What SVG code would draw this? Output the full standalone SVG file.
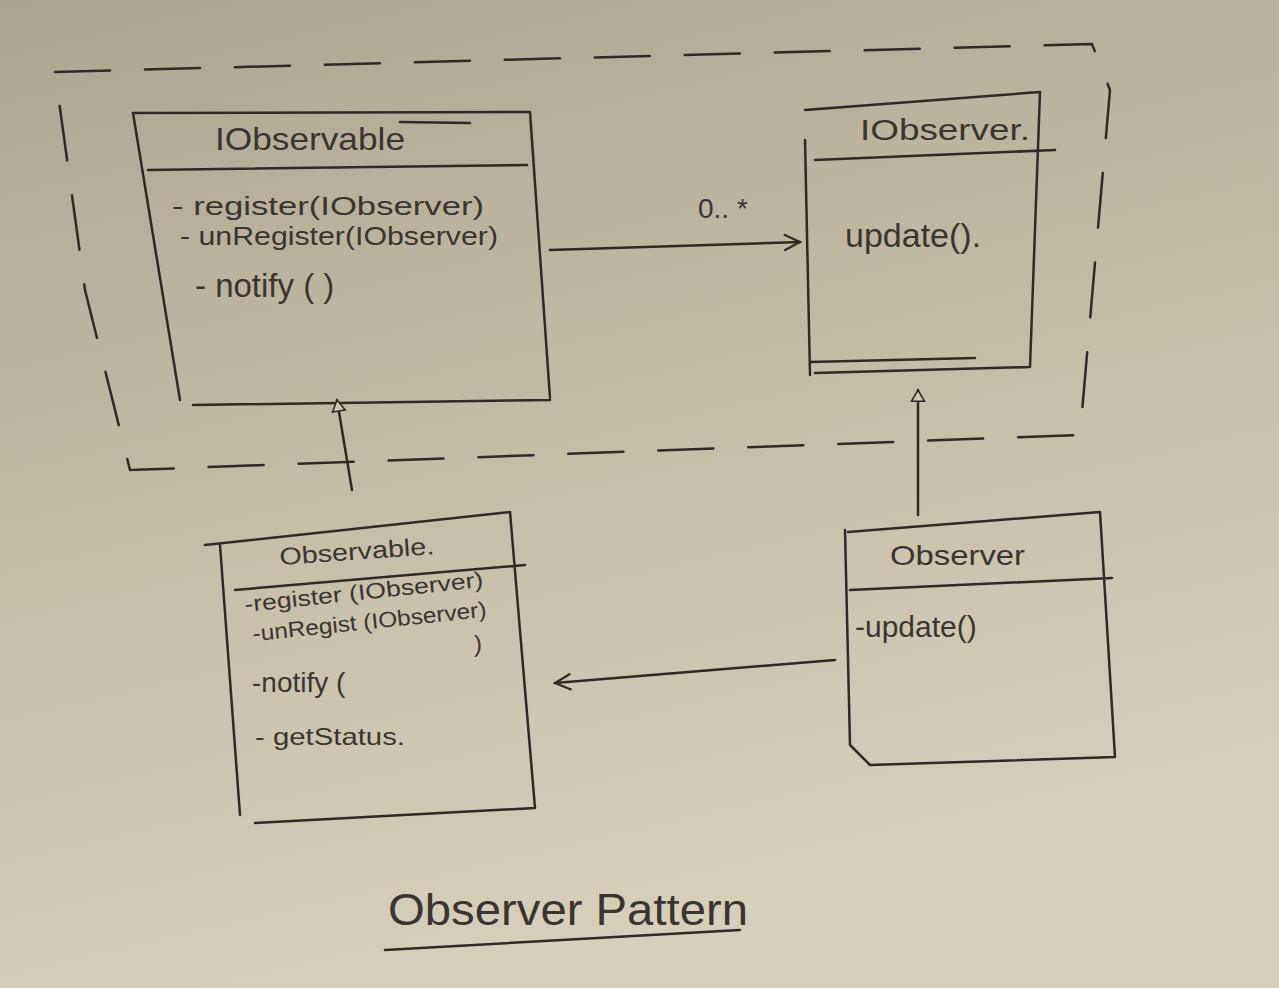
<svg xmlns="http://www.w3.org/2000/svg" width="1279" height="988" viewBox="0 0 1279 988">
<defs>
<linearGradient id="bg" x1="0" y1="0" x2="0.3" y2="1">
<stop offset="0" stop-color="#aca590"/>
<stop offset="0.5" stop-color="#c3bca5"/>
<stop offset="1" stop-color="#d6d0bb"/>
</linearGradient>
<marker id="open" viewBox="0 0 20 20" refX="18" refY="10" markerWidth="20" markerHeight="20" markerUnits="userSpaceOnUse" orient="auto">
<path d="M2,2 L18,10 L2,18" fill="none" stroke="#2e2a25" stroke-width="2.2"/>
</marker>
<marker id="tri" viewBox="0 0 20 20" refX="18" refY="10" markerWidth="16" markerHeight="16" markerUnits="userSpaceOnUse" orient="auto">
<path d="M4,2 L18,10 L4,18 Z" fill="#d0c9b3" stroke="#2e2a25" stroke-width="2"/>
</marker>
<style>
.ln{fill:none;stroke:#2e2a25;stroke-width:2.5;stroke-linecap:round;stroke-linejoin:round}
.t{font-family:"Liberation Sans",Arial,sans-serif;fill:#3a352f}
.dash{fill:none;stroke:#2e2a25;stroke-width:2.5;stroke-dasharray:55 35;stroke-linecap:round}
</style>
</defs>
<rect width="1279" height="988" fill="url(#bg)"/>

<g id="boundary">
<path class="dash" d="M55,72 L1092,44 L1110,90 L1080,435 L130,470 L85,290 L55,72"/>
</g>

<g id="IObservable">
<path class="ln" d="M133,113 L530,112 L550,398 M133,113 L180,400 M193,405 L550,400 M148,170 L527,165 M400,122 L470,123"/>
<text class="t" x="215" y="150" font-size="32" textLength="190" lengthAdjust="spacingAndGlyphs">IObservable</text>
<text class="t" x="172" y="215" font-size="26" textLength="312" lengthAdjust="spacingAndGlyphs">- register(IObserver)</text>
<text class="t" x="180" y="245" font-size="26" textLength="318" lengthAdjust="spacingAndGlyphs">- unRegister(IObserver)</text>
<text class="t" x="195" y="297" font-size="33">-  notify ( )</text>
</g>

<g id="IObserver">
<path class="ln" d="M805,110 L1040,92 L1030,367 L815,373 M805,140 L810,375 M815,160 L1055,150 M810,362 L975,358"/>
<text class="t" x="860" y="140" font-size="30" textLength="170" lengthAdjust="spacingAndGlyphs">IObserver.</text>
<text class="t" x="845" y="247" font-size="34">update().</text>
</g>

<g id="Observable">
<path class="ln" d="M205,545 L510,512 L535,808 L255,823 M220,545 L240,815 M235,590 L525,565"/>
<text class="t" x="280" y="565" font-size="24" textLength="155" lengthAdjust="spacingAndGlyphs" transform="rotate(-4 280 565)">Observable.</text>
<g transform="rotate(-6 245 610)">
<text class="t" x="245" y="612" font-size="22" textLength="240" lengthAdjust="spacingAndGlyphs">-register (IObserver)</text>
<text class="t" x="250" y="642" font-size="22" textLength="235" lengthAdjust="spacingAndGlyphs">-unRegist (IObserver)</text>
</g>
<text class="t" x="474" y="652" font-size="24">)</text>
<text class="t" x="252" y="692" font-size="28">-notify (</text>
<text class="t" x="255" y="745" font-size="24" textLength="150" lengthAdjust="spacingAndGlyphs">- getStatus.</text>
</g>

<g id="Observer">
<path class="ln" d="M848,532 L1100,512 L1115,757 L870,765 L850,745 L845,530 M850,590 L1112,578"/>
<text class="t" x="890" y="565" font-size="28" textLength="135" lengthAdjust="spacingAndGlyphs">Observer</text>
<text class="t" x="855" y="637" font-size="30">-update()</text>
</g>

<g id="connectors">
<path class="ln" d="M550,250 L800,242" marker-end="url(#open)"/>
<text class="t" x="698" y="218" font-size="28">0.. *</text>
<path class="ln" d="M918,515 L918,390" marker-end="url(#tri)"/>
<path class="ln" d="M352,490 L337,400" marker-end="url(#tri)"/>
<path class="ln" d="M835,660 L555,683" marker-end="url(#open)"/>
</g>

<g id="title">
<text class="t" x="388" y="925" font-size="44" textLength="360" lengthAdjust="spacingAndGlyphs">Observer Pattern</text>
<path class="ln" d="M385,950 L740,930"/>
</g>
</svg>
